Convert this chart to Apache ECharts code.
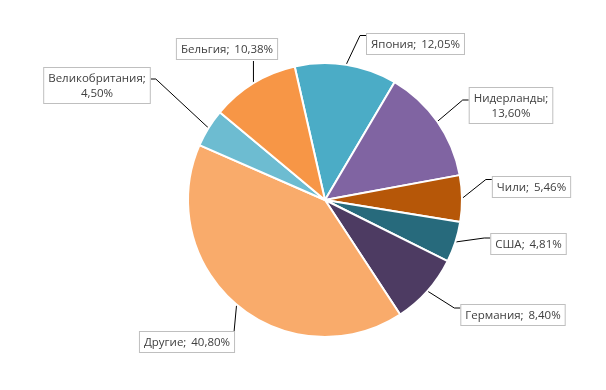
<!DOCTYPE html>
<html><head><meta charset="utf-8">
<script src="https://cdn.jsdelivr.net/npm/echarts@6/dist/echarts.min.js"></script>
<style>html,body{margin:0;padding:0;background:#fff}#c{width:606px;height:390px}</style>
</head><body><div id="c"></div>
<script>
// ---- data ----
const categories = ['Япония', 'Нидерланды', 'Чили', 'США', 'Германия', 'Другие', 'Великобритания', 'Бельгия'];
const shares = [12.05, 13.60, 5.46, 4.81, 8.40, 40.80, 4.50, 10.38];

// ---- styles ----
const colors = ['#4BACC6', '#8064A2', '#B65708', '#276A7C', '#4D3B62', '#F9AB6B', '#6DBCD1', '#F79646'];
const wrapAfterName = [false, true, false, false, false, false, true, false];
// label box placement: centre x, top y, side the leader attaches to, offset of the leader inside the box
const labelBoxes = [
  { cx: 415.5, top: 34, side: 'left', dy: 1.5 },
  { cx: 511, top: 88, side: 'left', dy: 12 },
  { cx: 531.5, top: 177, side: 'left', dy: 2.5 },
  { cx: 528.5, top: 234, side: 'left', dy: 4 },
  { cx: 513, top: 305, side: 'left', dy: 3 },
  { cx: 187, top: 332, side: 'top', dy: 0 },
  { cx: 97, top: 68, side: 'right', dy: 11 },
  { cx: 227, top: 39, side: 'bottom', dy: 0 }
];

const fmt = v => v.toFixed(2).replace('.', ',') + '%';

const chart = echarts.init(document.getElementById('c'), null, { renderer: 'canvas' });
chart.setOption({
  animation: false,
  backgroundColor: '#ffffff',
  series: [{
    type: 'pie',
    center: [325, 200],
    radius: 137,
    startAngle: 102.8,
    clockwise: true,
    avoidLabelOverlap: false,
    emphasis: { disabled: true },
    itemStyle: { borderColor: '#ffffff', borderWidth: 2 },
    label: {
      show: true,
      position: 'outside',
      formatter: p => p.name + ';' + (wrapAfterName[p.dataIndex] ? '\n' : ' \u2009') + fmt(p.value),
      color: '#404040',
      fontSize: 11.5,
      fontFamily: 'Open Sans',
      lineHeight: 15,
      backgroundColor: '#ffffff',
      borderColor: '#BFBFBF',
      borderWidth: 1,
      padding: [3, 4, 2, 4]
    },
    labelLine: { show: true, length: 10, length2: 10, lineStyle: { color: '#000000', width: 1 } },
    labelLayout: function (p) {
      const b = labelBoxes[p.dataIndex];
      const w = p.labelRect.width, h = p.labelRect.height;
      const a = p.labelLinePoints[0];
      const left = b.cx - w / 2, right = b.cx + w / 2;
      let pts;
      if (b.side === 'left') {
        const y = b.top + b.dy;
        pts = [a, [left - 6, y], [left, y]];
      } else if (b.side === 'right') {
        const y = b.top + b.dy;
        pts = [a, [right + 5, y], [right, y]];
      } else if (b.side === 'bottom') {
        const y = b.top + h;
        pts = [a, [a[0], y], [a[0], y]];
      } else {
        const x = Math.min(a[0], right - 1);
        pts = [a, [x, b.top], [x, b.top]];
      }
      return { x: b.cx, y: b.top, align: 'center', verticalAlign: 'top', labelLinePoints: pts };
    },
    data: categories.map((n, i) => ({ name: n, value: shares[i], itemStyle: { color: colors[i] } }))
  }]
});
</script>
</body></html>
